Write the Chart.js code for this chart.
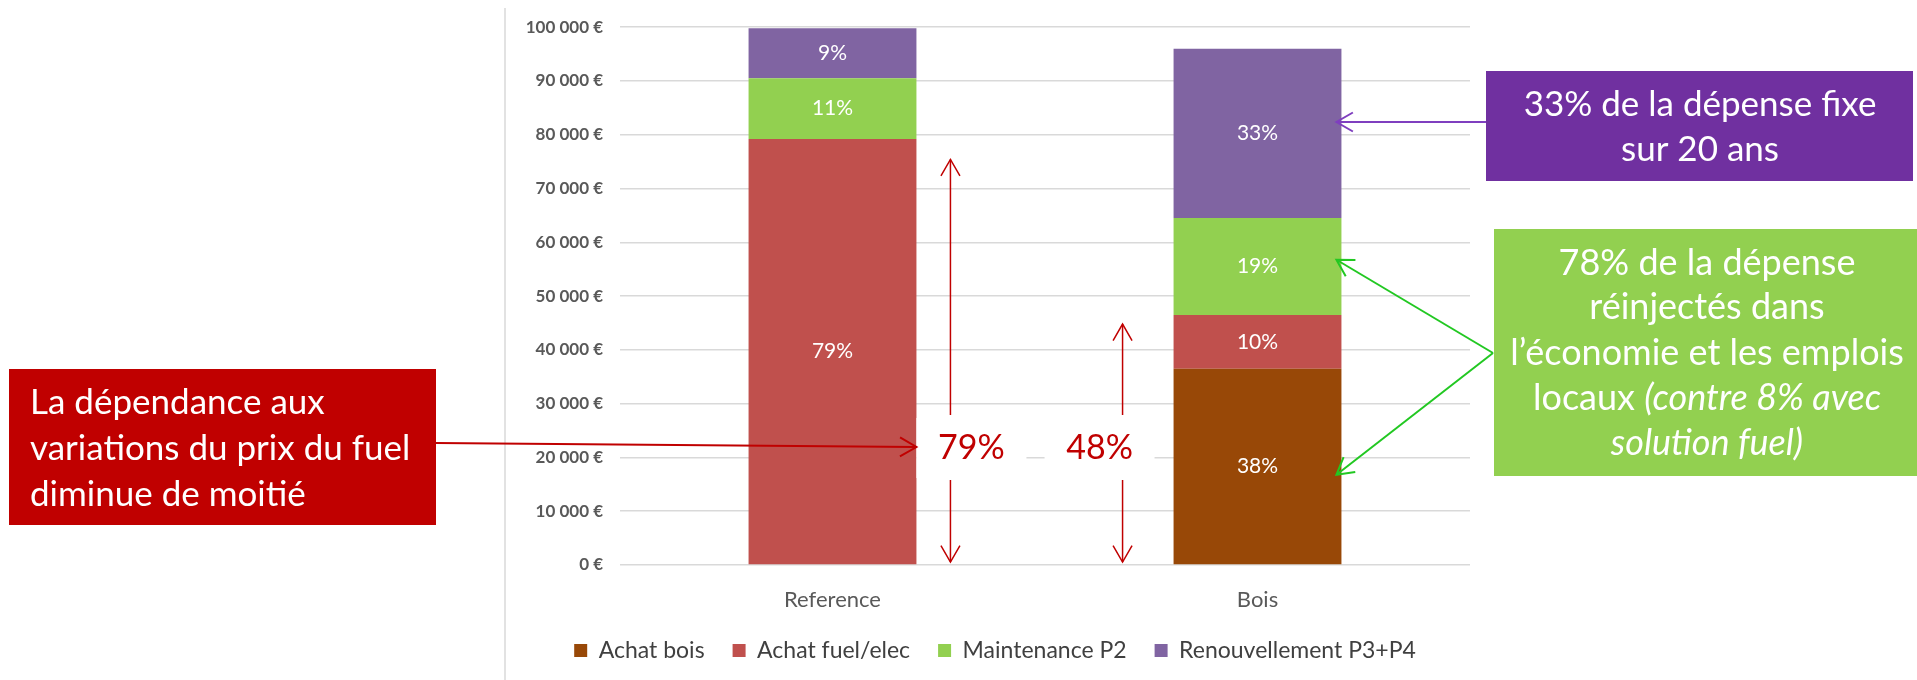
<!DOCTYPE html>
<html>
<head>
<meta charset="utf-8">
<script src="https://cdn.jsdelivr.net/npm/chart.js@4.4.1/dist/chart.umd.min.js"></script>
<style>
  body { margin: 0; background: #fff; }
  #wrap { width: 1917px; height: 680px; }
</style>
</head>
<body>
<div id="wrap"><canvas id="myChart"></canvas></div>
<script>
// values (euros)
const categories = ["Reference", "Bois"];
const achatBois = [0, 36500];
const achatFuel = [79200, 10000];
const maintenance = [11300, 18000];
const renouvellement = [9300, 31500];
const seriesNames = ["Achat bois", "Achat fuel/elec", "Maintenance P2", "Renouvellement P3+P4"];
const seriesColors = ["#984807", "#C0504D", "#92D050", "#8064A2"];
const yMax = 100000;
const yStep = 10000;
// tops of the two red double arrows, in euros
const arrowTops = [75400, 44800];

const FONT = "Lato";

function euros(v) {
  return String(v).replace(/\B(?=(\d{3})+(?!\d))/g, " ") + " €";
}

function totalOf(i) {
  return achatBois[i] + achatFuel[i] + maintenance[i] + renouvellement[i];
}

function chevron(ctx, x1, y1, x2, y2) {
  // open arrow head at (x2, y2)
  const a = Math.atan2(y2 - y1, x2 - x1);
  const len = 19, spread = Math.PI / 6;
  ctx.beginPath();
  ctx.moveTo(x2 - len * Math.cos(a - spread), y2 - len * Math.sin(a - spread));
  ctx.lineTo(x2, y2);
  ctx.lineTo(x2 - len * Math.cos(a + spread), y2 - len * Math.sin(a + spread));
  ctx.stroke();
}

function arrow(ctx, x1, y1, x2, y2) {
  ctx.beginPath();
  ctx.moveTo(x1, y1);
  ctx.lineTo(x2, y2);
  ctx.stroke();
  chevron(ctx, x1, y1, x2, y2);
}

const barLabels = {
  id: "barLabels",
  afterDatasetsDraw(chart) {
    const ctx = chart.ctx;
    ctx.save();
    ctx.fillStyle = "#ffffff";
    ctx.font = "21px " + FONT;
    ctx.textAlign = "center";
    ctx.textBaseline = "middle";
    chart.data.datasets.forEach((ds, d) => {
      chart.getDatasetMeta(d).data.forEach((bar, i) => {
        const v = ds.data[i];
        if (!v) return;
        const pct = Math.round((v / totalOf(i)) * 100) + "%";
        ctx.fillText(pct, bar.x, (bar.y + bar.base) / 2);
      });
    });
    ctx.restore();
  },
};

const notes = {
  id: "notes",
  afterDraw(chart) {
    const ctx = chart.ctx;
    const y = chart.scales.y;
    const refBar = chart.getDatasetMeta(1).data[0];
    const boisBar = chart.getDatasetMeta(0).data[1];
    const refRight = refBar.x + refBar.width / 2;
    const boisLeft = boisBar.x - boisBar.width / 2;
    const boisRight = boisBar.x + boisBar.width / 2;
    const y0 = y.getPixelForValue(0);
    ctx.save();

    // frame line on the left of the chart
    ctx.strokeStyle = "#D9D9D9";
    ctx.lineWidth = 1.5;
    ctx.beginPath();
    ctx.moveTo(505, 8);
    ctx.lineTo(505, 680);
    ctx.stroke();

    // red double arrows with the shares between them
    const fuelShare = Math.round((achatFuel[0] / totalOf(0)) * 100) + "%";
    const boisShare = Math.round(((achatBois[1] + achatFuel[1]) / totalOf(1)) * 100) + "%";
    const shares = [
      { x: refRight + 34, top: arrowTops[0], text: fuelShare, box: refRight },
      { x: boisLeft - 51, top: arrowTops[1], text: boisShare, box: boisLeft - 129 },
    ];
    shares.forEach((s) => {
      ctx.fillStyle = "#ffffff";
      ctx.fillRect(s.box, 418, 110, 60);
      ctx.strokeStyle = "#C00000";
      ctx.lineWidth = 1.5;
      arrow(ctx, s.x, 415, s.x, y.getPixelForValue(s.top));
      arrow(ctx, s.x, 480, s.x, y0 - 3);
      ctx.fillStyle = "#C00000";
      ctx.font = "34px " + FONT;
      ctx.textAlign = "center";
      ctx.textBaseline = "middle";
      ctx.fillText(s.text, s.box + 55, 448);
    });

    // red note
    ctx.fillStyle = "#C00000";
    ctx.fillRect(9, 369, 427, 156);
    ctx.fillStyle = "#ffffff";
    ctx.font = "35px " + FONT;
    ctx.textAlign = "left";
    ctx.textBaseline = "middle";
    ["La dépendance aux", "variations du prix du fuel", "diminue de moitié"].forEach((t, i) => {
      ctx.fillText(t, 30, 403 + i * 46);
    });
    ctx.strokeStyle = "#C00000";
    ctx.lineWidth = 2;
    arrow(ctx, 436, 443, refRight, 447);

    // purple note
    ctx.fillStyle = "#7030A0";
    ctx.fillRect(1486, 71, 427, 110);
    ctx.fillStyle = "#ffffff";
    ctx.textAlign = "center";
    ctx.fillText("33% de la dépense fixe", 1700, 105);
    ctx.fillText("sur 20 ans", 1700, 150);
    ctx.strokeStyle = "#7F3FBF";
    ctx.lineWidth = 2;
    arrow(ctx, 1486, 122, boisRight - 5, 122);

    // green note
    ctx.fillStyle = "#92D050";
    ctx.fillRect(1494, 229, 423, 247);
    ctx.fillStyle = "#ffffff";
    const cx = 1707;
    ctx.font = "36px " + FONT;
    ctx.fillText("78% de la dépense", cx, 263);
    ctx.fillText("réinjectés dans", cx, 307);
    ctx.fillText("l’économie et les emplois", cx, 353);
    const plain = "locaux ";
    const ital = "(contre 8% avec";
    const w1 = ctx.measureText(plain).width;
    ctx.font = "italic 36px " + FONT;
    const w2 = ctx.measureText(ital).width;
    ctx.textAlign = "left";
    ctx.font = "36px " + FONT;
    ctx.fillText(plain, cx - (w1 + w2) / 2, 398);
    ctx.font = "italic 36px " + FONT;
    ctx.fillText(ital, cx - (w1 + w2) / 2 + w1, 398);
    ctx.textAlign = "center";
    ctx.fillText("solution fuel)", cx, 443);
    ctx.strokeStyle = "#22C822";
    ctx.lineWidth = 2;
    arrow(ctx, 1493, 353, boisRight - 5, y.getPixelForValue(achatBois[1] + achatFuel[1] + maintenance[1] * 0.57));
    arrow(ctx, 1493, 353, boisRight - 5, y.getPixelForValue(achatBois[1] * 0.46));

    ctx.restore();
  },
};

const ctx = document.getElementById("myChart").getContext("2d");
const chart = new Chart(ctx, {
  type: "bar",
  data: {
    labels: categories,
    datasets: [achatBois, achatFuel, maintenance, renouvellement].map((d, i) => ({
      label: seriesNames[i],
      data: d,
      backgroundColor: seriesColors[i],
      barPercentage: 0.395,
      categoryPercentage: 1,
    })),
  },
  options: {
    responsive: true,
    maintainAspectRatio: false,
    animation: false,
    layout: { padding: { left: 520, right: 447, top: 25, bottom: 8 } },
    scales: {
      x: {
        stacked: true,
        grid: { display: false, drawTicks: false },
        border: { display: false },
        ticks: { color: "#595959", font: { family: FONT, size: 22, lineHeight: 1 }, padding: 24 },
        afterFit: (s) => { s.height = 46; },
      },
      y: {
        stacked: true,
        min: 0,
        max: yMax,
        border: { display: false },
        grid: { color: "#D9D9D9", lineWidth: 1.5, drawTicks: false },
        ticks: {
          stepSize: yStep,
          color: "#595959",
          padding: 17,
          font: { family: FONT, size: 17, weight: "bold" },
          callback: (v) => euros(v),
        },
        afterFit: (s) => { s.width = 100; },
      },
    },
    plugins: {
      legend: {
        position: "bottom",
        labels: {
          boxWidth: 13,
          boxHeight: 13,
          color: "#404040",
          padding: 28,
          font: { family: FONT, size: 23 },
        },
      },
      tooltip: { enabled: false },
    },
  },
  plugins: [barLabels, notes],
});
</script>
</body>
</html>
